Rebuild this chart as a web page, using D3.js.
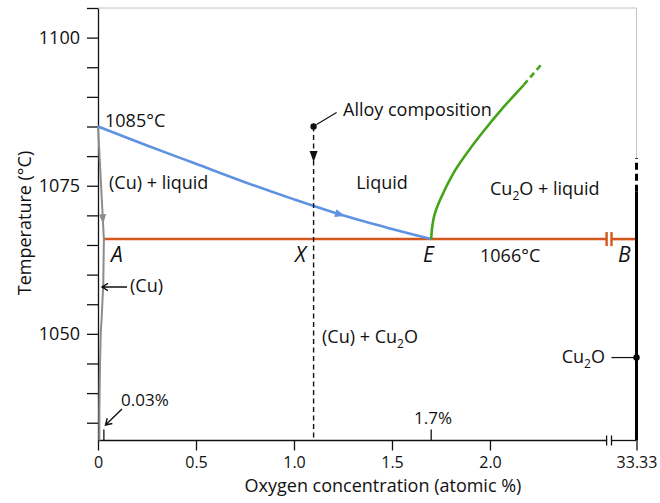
<!DOCTYPE html>
<html>
<head>
<meta charset="utf-8">
<script src="https://cdn.jsdelivr.net/npm/d3@7"></script>
<style>
body { margin: 0; background: #fff; }
svg { font-family: "Open Sans", sans-serif; }
</style>
</head>
<body>
<svg id="chart" width="660" height="503"></svg>
<script>
// ticks
const xTickValues = [0, 0.5, 1.0, 1.5, 2.0, 33.33];
const xTickLabels = ["0", "0.5", "1.0", "1.5", "2.0", "33.33"];
const yTickValues = [1035, 1040, 1045, 1050, 1055, 1060, 1065, 1070, 1075, 1080, 1085, 1090, 1095, 1100, 1105];
const yTickLabels = [1050, 1075, 1100];

// liquidus of copper side (blue)
const liquidusX = [0, 0.25, 0.5, 0.75, 1.0, 1.25, 1.5, 1.7];
const liquidusT = [1085, 1081.8, 1078.7, 1075.6, 1072.7, 1070.0, 1067.7, 1066];

// liquidus of Cu2O side (green), solid part and dashed extension
const oxideX = [1.70, 1.705, 1.716, 1.745, 1.813, 1.893, 1.972, 2.07, 2.172];
const oxideT = [1066, 1068, 1070, 1072.6, 1077.1, 1081.0, 1084.4, 1088.3, 1092.0];
const oxideExtX = [2.172, 2.26];
const oxideExtT = [1092.0, 1095.4];

// solidus + solvus of (Cu) (gray)
const solidusX = [0, 0.03];
const solidusT = [1085, 1066];
const solvusX = [0.03, 0.027, 0.019, 0.014, 0.010, 0.007, 0.007];
const solvusT = [1066, 1058.6, 1052.9, 1050.1, 1044.5, 1036.7, 1032];

// special points
const meltT = 1085;
const eutecticT = 1066;
const eutecticX = 1.7;
const solubilityX = 0.03;
const cu2oX = 33.33;
const cu2oSolidTop = 1074;
const cu2oDashTop = 1079.7;
const cu2oMarkT = 1046;
const alloyX = 1.1;
const alloyArrowT = 1079;

const svg = d3.select("#chart");

// broken x axis: 0..2.62 linear, then jump to 33.33
const x = d3.scaleLinear().domain([0, 2.62, 33.33]).range([98, 611.5, 636.5]);
const y = d3.scaleLinear().domain([1032, 1105]).range([440.5, 8]);
const breakA = 2.595, breakB = 2.62;

const blue = "#5f93e2", orange = "#d4561d", green = "#44a318", gray = "#8c8c8c";

// frame (top + right), faint
svg.append("line")
  .attr("x1", x(0)).attr("x2", x(cu2oX))
  .attr("y1", y(1105)).attr("y2", y(1105))
  .attr("stroke", "#c4c4c4").attr("stroke-width", 1);
svg.append("line")
  .attr("x1", x(cu2oX)).attr("x2", x(cu2oX))
  .attr("y1", y(1105)).attr("y2", y(cu2oDashTop))
  .attr("stroke", "#c4c4c4").attr("stroke-width", 1);

// y axis
const yAxis = d3.axisLeft(y)
  .tickValues(yTickValues)
  .tickSize(11)
  .tickSizeOuter(0)
  .tickPadding(7)
  .tickFormat(d => yTickLabels.includes(d) ? d : "");
const gy = svg.append("g").attr("transform", "translate(" + x(0) + ",0)").call(yAxis);
gy.selectAll("text").attr("font-size", 18).attr("font-family", "Open Sans").attr("fill", "#111");
gy.selectAll("line, path").attr("stroke", "#111").attr("stroke-width", 1.3);

// x axis
const xAxis = d3.axisBottom(x)
  .tickValues(xTickValues)
  .tickSize(10)
  .tickPadding(6)
  .tickFormat((d, i) => xTickLabels[i]);
const gx = svg.append("g").attr("transform", "translate(0," + y(1032) + ")").call(xAxis);
gx.select(".domain").remove();
gx.selectAll("text").attr("font-size", 16).attr("font-family", "Open Sans").attr("fill", "#111");
gx.selectAll("line").attr("stroke", "#111").attr("stroke-width", 1.3);

// axis line in two pieces with break marks
const axisY = y(1032);
[[0, breakA], [breakB, cu2oX]].forEach(s => {
  svg.append("line").attr("x1", x(s[0])).attr("x2", x(s[1]))
    .attr("y1", axisY).attr("y2", axisY)
    .attr("stroke", "#111").attr("stroke-width", 1.3);
});
[breakA, breakB].forEach(b => {
  svg.append("line").attr("x1", x(b)).attr("x2", x(b))
    .attr("y1", axisY - 5).attr("y2", axisY + 5)
    .attr("stroke", "#111").attr("stroke-width", 1.3);
});

// inner ticks at 0.03 and 1.7
[solubilityX, eutecticX].forEach(v => {
  svg.append("line").attr("x1", x(v)).attr("x2", x(v))
    .attr("y1", axisY).attr("y2", axisY - 11)
    .attr("stroke", "#111").attr("stroke-width", 1.3);
});

const line = d3.line().x(d => x(d[0])).y(d => y(d[1]));
const zip = (a, b) => a.map((v, i) => [v, b[i]]);

// eutectic line in two pieces
[[solubilityX, breakA], [breakB, cu2oX]].forEach(s => {
  svg.append("path").attr("d", line([[s[0], eutecticT], [s[1], eutecticT]]))
    .attr("stroke", orange).attr("stroke-width", 2.6).attr("fill", "none");
});
[breakA, breakB].forEach(b => {
  svg.append("line").attr("x1", x(b)).attr("x2", x(b))
    .attr("y1", y(eutecticT) - 7).attr("y2", y(eutecticT) + 7)
    .attr("stroke", orange).attr("stroke-width", 2.4);
});

// gray solidus + solvus
svg.append("path")
  .attr("d", line(zip(solidusX, solidusT).concat(zip(solvusX, solvusT).slice(1))))
  .attr("stroke", gray).attr("stroke-width", 2).attr("fill", "none");

// blue liquidus
const smooth = d3.line().x(d => x(d[0])).y(d => y(d[1])).curve(d3.curveCatmullRom.alpha(0.5));
svg.append("path")
  .attr("d", smooth(zip(liquidusX, liquidusT)))
  .attr("stroke", blue).attr("stroke-width", 2.6).attr("fill", "none");

// green liquidus
svg.append("path")
  .attr("d", smooth(zip(oxideX, oxideT)))
  .attr("stroke", green).attr("stroke-width", 2.6).attr("fill", "none");
svg.append("path")
  .attr("d", line(zip(oxideExtX, oxideExtT)))
  .attr("stroke", green).attr("stroke-width", 2.6).attr("fill", "none")
  .attr("stroke-dasharray", "6,4");

// Cu2O vertical
svg.append("path").attr("d", line([[cu2oX, 1032], [cu2oX, cu2oSolidTop]]))
  .attr("stroke", "#000").attr("stroke-width", 3).attr("fill", "none");
svg.append("path").attr("d", line([[cu2oX, cu2oSolidTop], [cu2oX, cu2oDashTop]]))
  .attr("stroke", "#000").attr("stroke-width", 3).attr("fill", "none")
  .attr("stroke-dasharray", "7,4");

// filled arrowheads
function arrowHead(px, py, angle, len, wid, color) {
  svg.append("path")
    .attr("d", "M0,0 L" + (-len) + "," + (-wid / 2) + " L" + (-len) + "," + (wid / 2) + " Z")
    .attr("transform", "translate(" + px + "," + py + ") rotate(" + angle + ")")
    .attr("fill", color);
}
const liqAt = d3.scaleLinear().domain(liquidusX).range(liquidusT);
const ax = 1.26;
const ang1 = Math.atan2(y(liqAt(ax + 0.05)) - y(liqAt(ax - 0.05)), x(ax + 0.05) - x(ax - 0.05)) * 180 / Math.PI;
arrowHead(x(ax), y(liqAt(ax)), ang1, 10, 8, blue);

const solAt = d3.scaleLinear().domain(solidusT).range(solidusX);
const gT = 1068.5;
const ang2 = Math.atan2(y(gT - 1) - y(gT + 1), x(solAt(gT - 1)) - x(solAt(gT + 1))) * 180 / Math.PI;
arrowHead(x(solAt(gT)), y(gT), ang2, 10, 7, gray);

// alloy composition dashed line
svg.append("path").attr("d", line([[alloyX, meltT], [alloyX, 1032]]))
  .attr("stroke", "#111").attr("stroke-width", 1.4).attr("fill", "none")
  .attr("stroke-dasharray", "5,3.5");
arrowHead(x(alloyX), y(alloyArrowT), 90, 11, 8, "#111");
svg.append("circle").attr("cx", x(alloyX)).attr("cy", y(meltT)).attr("r", 3.2).attr("fill", "#111");
svg.append("line")
  .attr("x1", x(alloyX) + 3).attr("y1", y(meltT) - 2)
  .attr("x2", x(alloyX) + 23).attr("y2", y(meltT) - 14)
  .attr("stroke", "#111").attr("stroke-width", 1.2);

// Cu2O point + leader
svg.append("circle").attr("cx", x(cu2oX)).attr("cy", y(cu2oMarkT)).attr("r", 3.2).attr("fill", "#000");
svg.append("line")
  .attr("x1", x(cu2oX) - 25).attr("x2", x(cu2oX))
  .attr("y1", y(cu2oMarkT)).attr("y2", y(cu2oMarkT))
  .attr("stroke", "#111").attr("stroke-width", 1.2);

// open chevron arrows
function openArrow(x1, y1, x2, y2) {
  const a = Math.atan2(y2 - y1, x2 - x1);
  const h = 7, s = 0.55;
  svg.append("path")
    .attr("d", "M" + x1 + "," + y1 + " L" + x2 + "," + y2 +
      " M" + (x2 - h * Math.cos(a - s)) + "," + (y2 - h * Math.sin(a - s)) +
      " L" + x2 + "," + y2 +
      " L" + (x2 - h * Math.cos(a + s)) + "," + (y2 - h * Math.sin(a + s)))
    .attr("stroke", "#111").attr("stroke-width", 1.4).attr("fill", "none");
}
openArrow(127, 287, 102, 287);
openArrow(122, 409, 105.5, 425);

// text
function label(txt, px, py, opts) {
  opts = opts || {};
  const t = svg.append("text")
    .attr("x", px).attr("y", py)
    .attr("font-size", opts.size || 18)
    .attr("text-anchor", opts.anchor || "start")
    .attr("fill", "#111");
  if (opts.italic) t.attr("font-style", "italic");
  if (opts.sub) {
    t.append("tspan").text(txt[0]);
    t.append("tspan").text(txt[1]).attr("font-size", 12).attr("dy", 5);
    t.append("tspan").text(txt[2]).attr("dy", -5);
  } else {
    t.text(txt);
  }
  return t;
}
label("1085°C", 105, 127);
label("(Cu) + liquid", 109, 189);
label("Liquid", 382, 189, {anchor: "middle"});
label(["Cu", "2", "O + liquid"], 490, 195, {sub: true});
label(["(Cu) + Cu", "2", "O"], 322, 343, {sub: true});
label("Alloy composition", 343, 116);
label("A", 111, 262, {italic: true, size: 21});
label("X", 295, 262, {italic: true, size: 21});
label("E", 423, 262, {italic: true, size: 21});
label("B", 618, 262, {italic: true, size: 21});
label("1066°C", 480, 262);
label("(Cu)", 130, 292);
label("0.03%", 121, 406, {size: 17});
label("1.7%", 433, 424, {anchor: "middle", size: 17});
label(["Cu", "2", "O"], 605, 363, {sub: true, anchor: "end"});

svg.append("text")
  .attr("x", 383).attr("y", 492)
  .attr("text-anchor", "middle").attr("font-size", 18).attr("fill", "#111")
  .text("Oxygen concentration (atomic %)");
svg.append("text")
  .attr("transform", "translate(31,223) rotate(-90)")
  .attr("text-anchor", "middle").attr("font-size", 18).attr("fill", "#111")
  .text("Temperature (°C)");
</script>
</body>
</html>
